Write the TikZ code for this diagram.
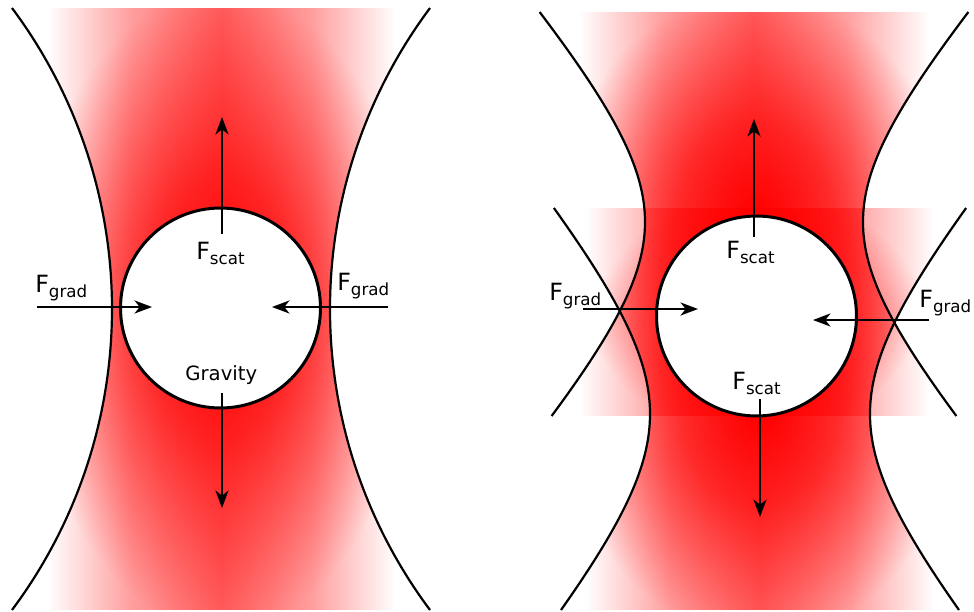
\documentclass[tikz,border=0pt]{standalone}
\usepackage{fontspec}
\setmainfont{DejaVu Sans}
\usetikzlibrary{arrows.meta,fadings}

\pgfdeclarehorizontalshading{hfadeshade}{100bp}{color(0bp)=(black); color(25bp)=(black); color(37bp)=(black!62!white); color(50bp)=(black!38!white); color(63bp)=(black!62!white); color(75bp)=(black); color(100bp)=(black)}
\pgfdeclarefading{hfade}{\pgfuseshading{hfadeshade}}
\pgfdeclareradialshading{radfadeshade}{\pgfpointorigin}{color(0bp)=(white); color(10bp)=(white!70!black); color(25bp)=(black); color(50bp)=(black)}
\pgfdeclarefading{rfade}{\pgfuseshading{radfadeshade}}

\newcommand{\Fsub}[1]{{\fontsize{13.5}{14}\selectfont F}\raisebox{-3.2pt}{\fontsize{9.5}{10}\selectfont #1}}

% left panel beam edges: circular arcs, R = 503
\def\lpL{-391+503*sqrt(1-((\x-309)/503)^2)}
\def\lpR{833-503*sqrt(1-((\x-309)/503)^2)}
% right panel, upper beam
\def\ruL{754-109*sqrt(1+((\x-222)/124)^2)}
\def\ruR{754+109*sqrt(1+((\x-222)/124)^2)}
% right panel, lower beam
\def\rlL{760-110*sqrt(1+((\x-414)/130)^2)}
\def\rlR{760+110*sqrt(1+((\x-414)/130)^2)}

\begin{document}
\begin{tikzpicture}[x=0.02cm,y=-0.02cm,
  beamline/.style={line width=1.25pt},
  ball/.style={circle, draw, line width=1.7pt, fill=white, minimum size=4cm, inner sep=0pt},
  force/.style={line width=0.9pt, -{Stealth[length=10pt,width=7.5pt,inset=3pt]}},
  lab/.style={inner sep=0pt, anchor=base west}]
\useasboundingbox (0,0) rectangle (974,612);
\fill[white] (0,0) rectangle (974,612);

% ---------- left beam ----------
\begin{scope}
  \clip plot[domain=8:610,samples=100] ({\lpL},\x)
     -- plot[domain=610:8,samples=100] ({\lpR},\x) -- cycle;
  \clip (48,8) rectangle (395,610);
  \fill[red, path fading=hfade] (48,8) rectangle (395,610);
  \fill[red, path fading=rfade] (221,309) ellipse [x radius=195, y radius=320];
\end{scope}
\draw[beamline] plot[domain=8:610,samples=100] ({\lpL},\x);
\draw[beamline] plot[domain=8:610,samples=100] ({\lpR},\x);

% ---------- right upper beam ----------
\begin{scope}
  \clip plot[domain=12:416,samples=100] ({\ruL},\x)
     -- plot[domain=416:12,samples=100] ({\ruR},\x) -- cycle;
  \clip (580,12) rectangle (928,416);
  \fill[red, path fading=hfade] (580,12) rectangle (928,416);
  \fill[red, path fading=rfade] (754,218) ellipse [x radius=195, y radius=225];
\end{scope}
% ---------- right lower beam ----------
\begin{scope}
  \clip plot[domain=208:610,samples=100] ({\rlL},\x)
     -- plot[domain=610:208,samples=100] ({\rlR},\x) -- cycle;
  \clip (586,208) rectangle (934,610);
  \fill[red, path fading=hfade] (586,208) rectangle (934,610);
  \fill[red, path fading=rfade] (760,412) ellipse [x radius=195, y radius=225];
\end{scope}
\draw[beamline] plot[domain=12:416,samples=100] ({\ruL},\x);
\draw[beamline] plot[domain=12:416,samples=100] ({\ruR},\x);
\draw[beamline] plot[domain=208:610,samples=100] ({\rlL},\x);
\draw[beamline] plot[domain=208:610,samples=100] ({\rlR},\x);

% ---------- spheres ----------
\node[ball] (ballL) at (220.5,308) {};
\node[ball] (ballR) at (756.5,316) {};

% ---------- left forces ----------
\coordinate (lUpS) at (222,234);  \coordinate (lUpE) at (222,117);
\coordinate (lDnS) at (222,393);  \coordinate (lDnE) at (222,508);
\coordinate (lGlS) at (37,307);   \coordinate (lGlE) at (152,307);
\coordinate (lGrS) at (388,307);  \coordinate (lGrE) at (272,307);
\draw[force] (lUpS) -- (lUpE);
\draw[force] (lDnS) -- (lDnE);
\draw[force] (lGlS) -- (lGlE);
\draw[force] (lGrS) -- (lGrE);
\node[lab] (tScatL) at (196,259) {\Fsub{scat}};
\node[lab] (tGradLL) at (35,292) {\Fsub{grad}};
\node[lab] (tGradLR) at (337,290) {\Fsub{grad}};
\node[lab] (tGrav) at (185,380) {\fontsize{11.2}{12}\selectfont Gravity};

% ---------- right forces ----------
\coordinate (rUpS) at (754,237);  \coordinate (rUpE) at (754,119);
\coordinate (rDnS) at (760,399);  \coordinate (rDnE) at (760,517);
\coordinate (rGlS) at (583,309);  \coordinate (rGlE) at (698,309);
\coordinate (rGrS) at (929,320);  \coordinate (rGrE) at (813,320);
\draw[force] (rUpS) -- (rUpE);
\draw[force] (rDnS) -- (rDnE);
\draw[force] (rGlS) -- (rGlE);
\draw[force] (rGrS) -- (rGrE);
\node[lab] (tScatRU) at (726,258) {\Fsub{scat}};
\node[lab] (tScatRD) at (732,389) {\Fsub{scat}};
\node[lab] (tGradRL) at (549,300) {\Fsub{grad}};
\node[lab] (tGradRR) at (919,307) {\Fsub{grad}};
\end{tikzpicture}
\end{document}
